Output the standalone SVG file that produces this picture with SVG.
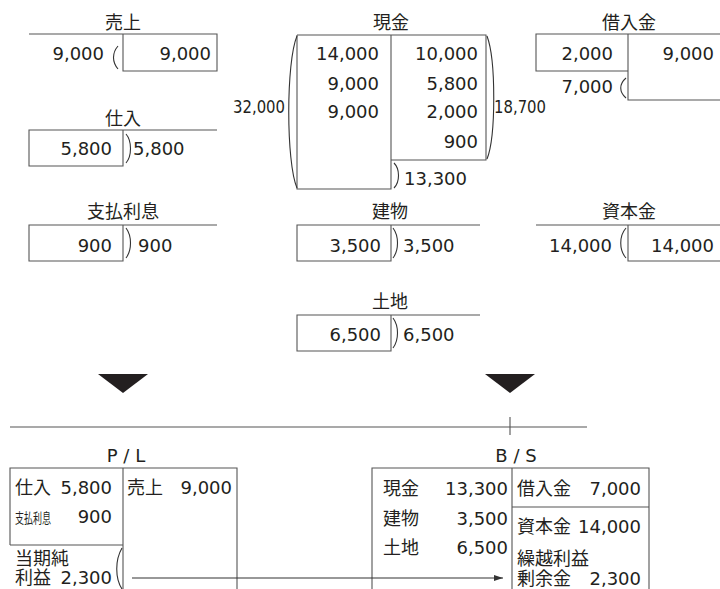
<svg xmlns="http://www.w3.org/2000/svg" width="720" height="589" viewBox="0 0 720 589">
<defs>
<style>
text{font-family:"DejaVu Sans","Noto Sans CJK JP",sans-serif;font-size:18px;fill:#231f20}
.r{text-anchor:end}
.c{text-anchor:middle}
.ln{fill:none;stroke:#555;stroke-width:1.1}
.p{fill:none;stroke:#333;stroke-width:1.1}
.cond{font-size:17px}
.sm{font-size:14px}
</style>
<marker id="ah" markerWidth="10" markerHeight="8" refX="9" refY="4" orient="auto" markerUnits="userSpaceOnUse">
<path d="M0,1 L9,4 L0,7 Z" fill="#333"/>
</marker>
</defs>
<rect width="720" height="589" fill="#fff"/>

<g id="uriage">
<text class="c" x="123" y="29">売上</text>
<path class="ln" d="M29,34 H217 V71 H123 V34"/>
<text class="r" x="104" y="60">9,000</text>
<path class="p" d="M118,46 C112,53 112,62 118,69"/>
<text class="r" x="211" y="60">9,000</text>
</g>

<g id="shiire">
<text class="c" x="123" y="125">仕入</text>
<path class="ln" d="M217,130 H29 V166 H123 V130"/>
<text class="r" x="112" y="155">5,800</text>
<path class="p" d="M126,134 C132,141 132,156 126,163"/>
<text x="133" y="155">5,800</text>
</g>

<g id="shiharairisoku">
<text class="c" x="123" y="218">支払利息</text>
<path class="ln" d="M217,225 H29 V261 H123 V225"/>
<text class="r" x="112" y="252">900</text>
<path class="p" d="M126,228 C132,236 132,250 126,258"/>
<text x="138" y="252">900</text>
</g>

<g id="genkin">
<text class="c" x="391" y="29">現金</text>
<path class="ln" d="M297,35 H486 V160 H391"/>
<path class="ln" d="M297,35 V189 H391 V35"/>
<text class="r" x="379" y="60">14,000</text>
<text class="r" x="379" y="90">9,000</text>
<text class="r" x="379" y="118">9,000</text>
<text class="r" x="478" y="60">10,000</text>
<text class="r" x="478" y="90">5,800</text>
<text class="r" x="478" y="118">2,000</text>
<text class="r" x="478" y="148">900</text>
<path class="p" d="M297,36 C286,62 286,162 297,188"/>
<text class="cond" x="233" y="113" textLength="52" lengthAdjust="spacingAndGlyphs">32,000</text>
<path class="p" d="M487,36 C496,60 496,136 487,159"/>
<text class="cond" x="494" y="113" textLength="52" lengthAdjust="spacingAndGlyphs">18,700</text>
<path class="p" d="M394,163 C400,169 400,182 394,188"/>
<text x="404" y="185">13,300</text>
</g>

<g id="kariirekin">
<text class="c" x="629" y="29">借入金</text>
<path class="ln" d="M720,34 H536 V71 H628"/>
<path class="ln" d="M628,34 V100 H720"/>
<text class="r" x="613" y="60">2,000</text>
<text class="r" x="714" y="60">9,000</text>
<text class="r" x="613" y="93">7,000</text>
<path class="p" d="M626,78 C619,84 619,92 626,98"/>
</g>

<g id="tatemono">
<text class="c" x="390" y="218">建物</text>
<path class="ln" d="M480,225 H297 V261 H391 V225"/>
<text class="r" x="381" y="252">3,500</text>
<path class="p" d="M393,228 C399,236 399,250 393,258"/>
<text x="403" y="252">3,500</text>
</g>

<g id="shihonkin">
<text class="c" x="629" y="218">資本金</text>
<path class="ln" d="M536,225 H720"/>
<path class="ln" d="M628,225 V261 H720"/>
<text class="r" x="612" y="252">14,000</text>
<path class="p" d="M626,228 C619,236 619,250 626,258"/>
<text class="r" x="714" y="252">14,000</text>
</g>

<g id="tochi">
<text class="c" x="390" y="308">土地</text>
<path class="ln" d="M480,315 H297 V351 H391 V315"/>
<text class="r" x="381" y="341">6,500</text>
<path class="p" d="M393,318 C399,326 399,340 393,348"/>
<text x="403" y="341">6,500</text>
</g>

<g id="arrows-down">
<path d="M98,374 H148 L123,393 Z" fill="#231f20"/>
<path d="M485,374 H535 L510,393 Z" fill="#231f20"/>
</g>

<g id="divider">
<path class="ln" d="M10,427 H587 M510,417 V435"/>
</g>

<g id="pl">
<text class="c" x="126" y="462">P / L</text>
<path class="ln" d="M10,545 V468 H237 V589"/>
<path class="ln" d="M10,545 H123 M123,468 V589"/>
<text x="15" y="494">仕入</text>
<text class="r" x="112" y="494">5,800</text>
<text class="sm" x="15" y="523" textLength="36" lengthAdjust="spacingAndGlyphs">支払利息</text>
<text class="r" x="112" y="523">900</text>
<text x="127" y="494">売上</text>
<text class="r" x="232" y="494">9,000</text>
<text x="15" y="565">当期純</text>
<text x="15" y="584">利益</text>
<text class="r" x="112" y="584">2,300</text>
<path class="p" d="M122,548 C115,560 115,578 122,589"/>
</g>

<g id="bs">
<text class="c" x="516" y="462">B / S</text>
<path class="ln" d="M372,589 V468 H649 V589"/>
<path class="ln" d="M512,468 V589 M512,507 H649"/>
<text x="383" y="495">現金</text>
<text class="r" x="508" y="495">13,300</text>
<text x="383" y="525">建物</text>
<text class="r" x="508" y="525">3,500</text>
<text x="383" y="554">土地</text>
<text class="r" x="508" y="554">6,500</text>
<text x="517" y="495">借入金</text>
<text class="r" x="641" y="495">7,000</text>
<text x="517" y="533">資本金</text>
<text class="r" x="641" y="533">14,000</text>
<text x="517" y="565">繰越利益</text>
<text x="517" y="585">剰余金</text>
<text class="r" x="641" y="585">2,300</text>
</g>

<g id="connectors">
<path class="p" d="M132,578 H503" marker-end="url(#ah)"/>
</g>
</svg>
